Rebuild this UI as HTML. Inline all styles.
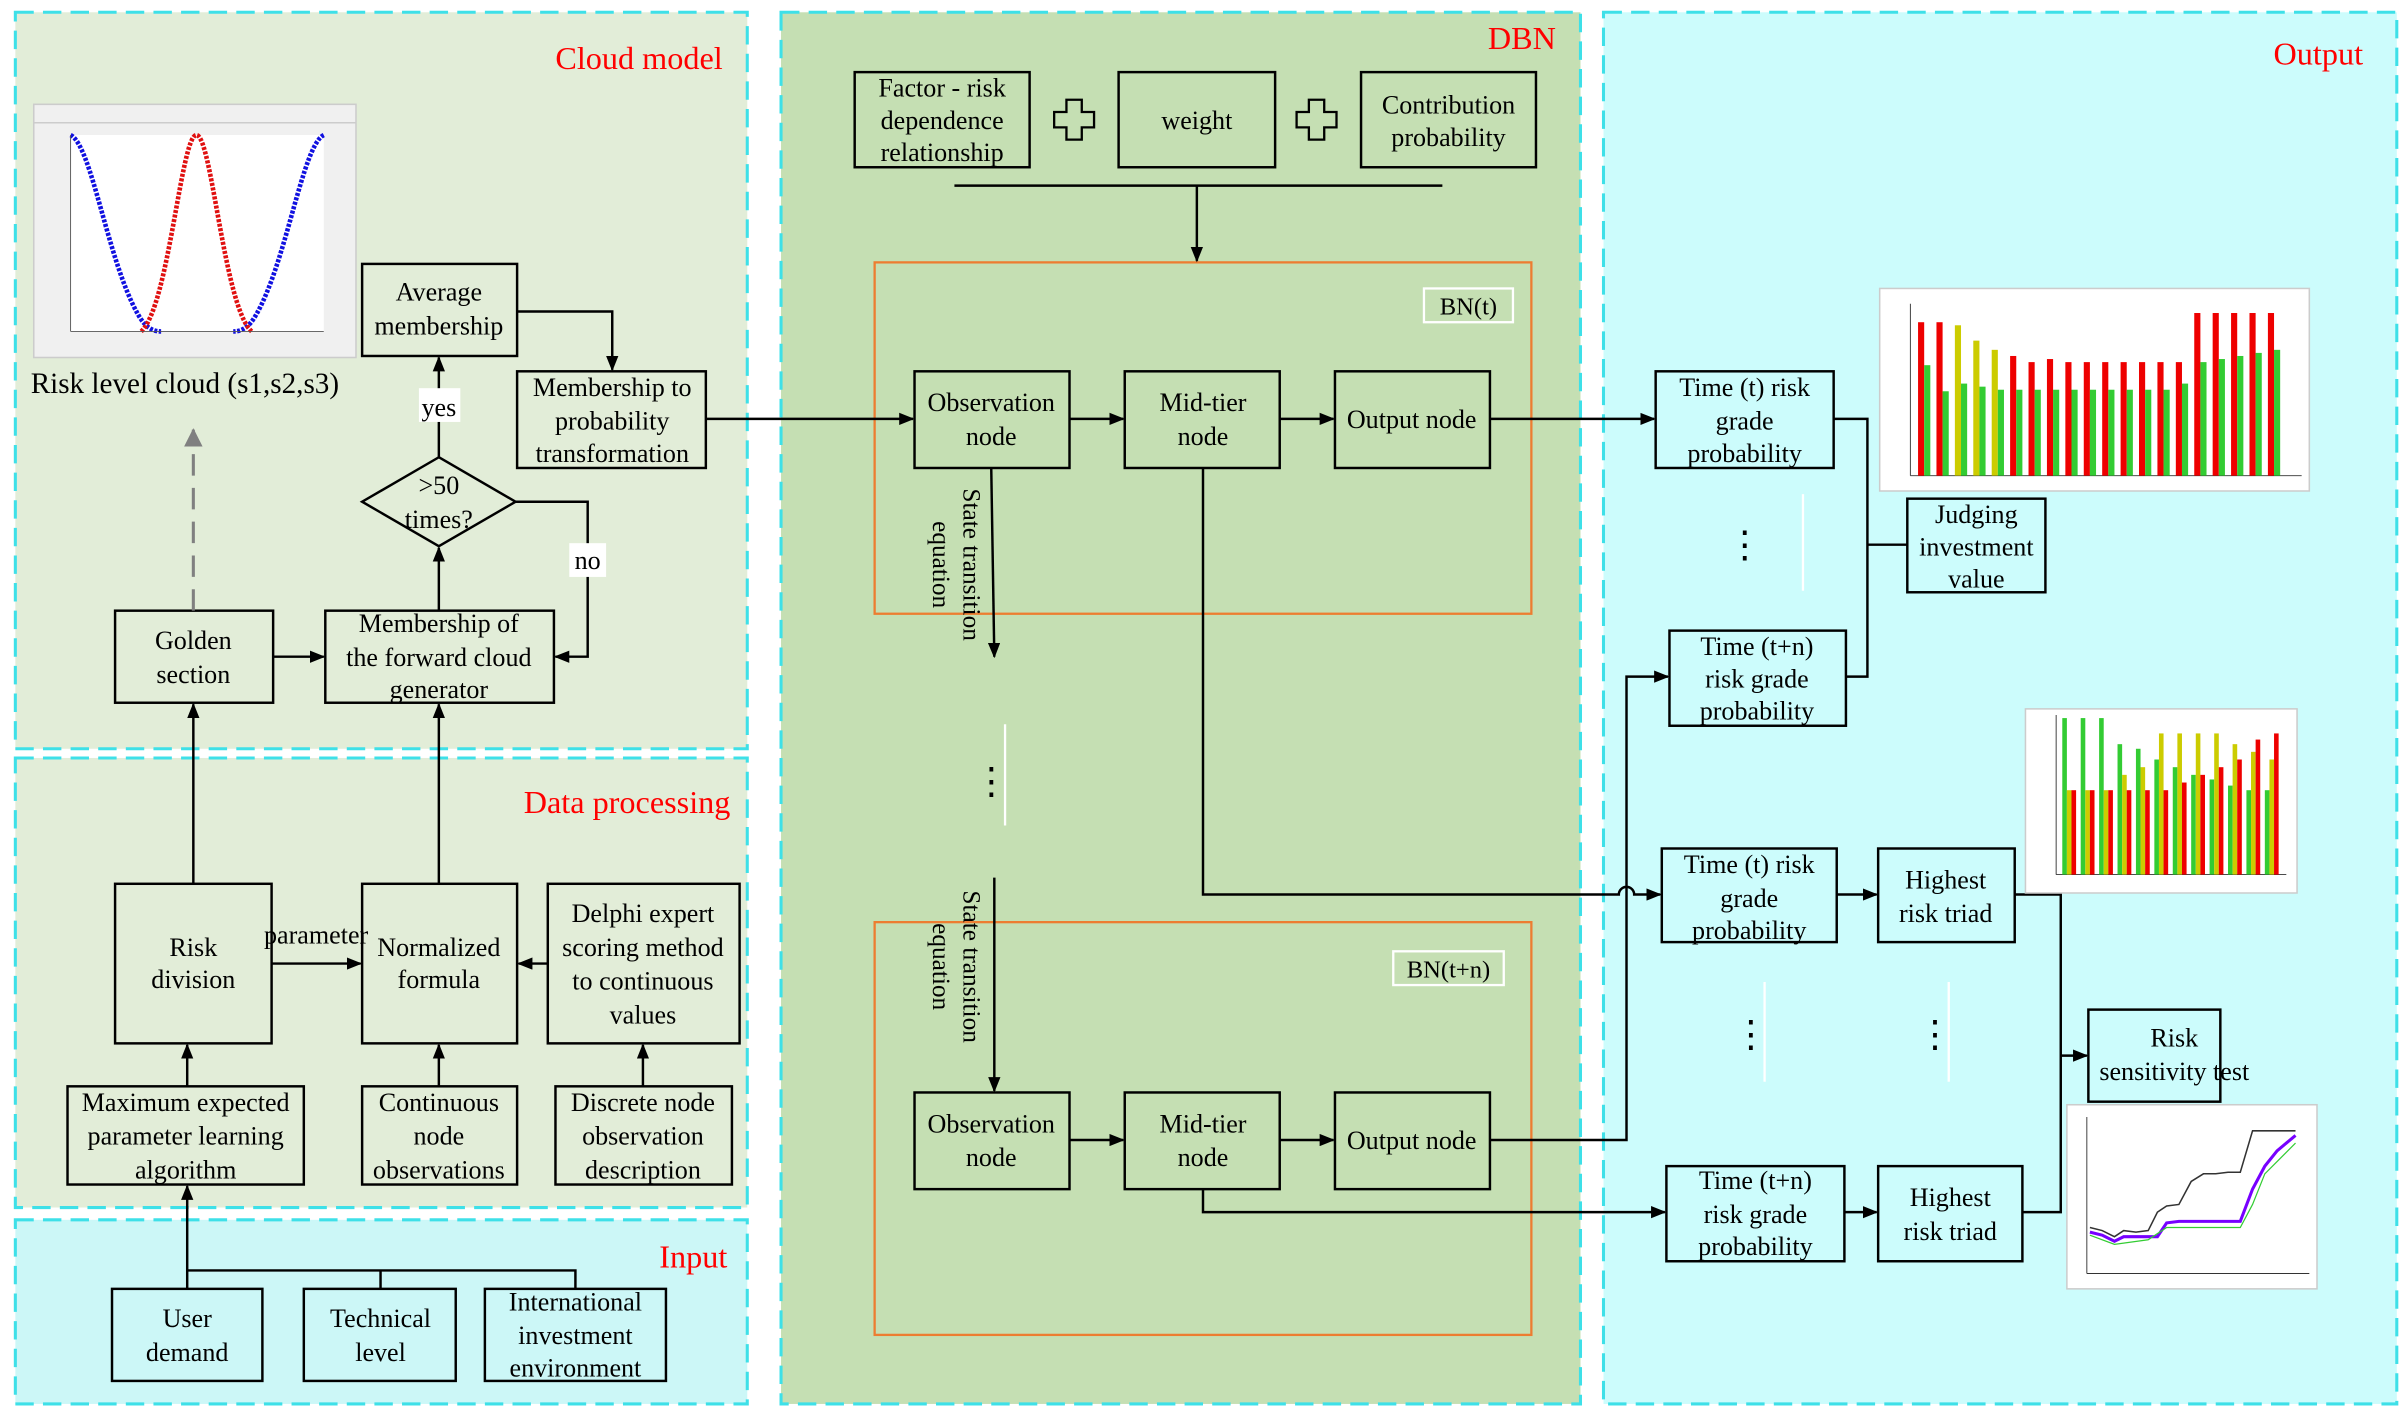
<!DOCTYPE html>
<html><head><meta charset="utf-8"><style>
html,body{margin:0;padding:0;background:#fff}
svg{display:block;font-family:"Liberation Serif","DejaVu Serif",serif}
svg text{font-family:"Liberation Serif","DejaVu Serif",serif}
</style></head><body>
<svg width="2406" height="1411" viewBox="0 0 1568 919.6" preserveAspectRatio="none" xmlns="http://www.w3.org/2000/svg" font-family="'Liberation Serif','DejaVu Serif',serif">
<defs>
<marker id="a" markerWidth="10" markerHeight="8" refX="9" refY="4" orient="auto" markerUnits="userSpaceOnUse"><path d="M0,0 L10,4 L0,8z" fill="#000"/></marker>
<marker id="g" markerWidth="12" markerHeight="12" refX="11" refY="6" orient="auto" markerUnits="userSpaceOnUse"><path d="M0,0 L12,6 L0,12z" fill="#808080"/></marker>
</defs>
<rect width="1568" height="920" fill="#fff"/>
<g stroke="#3ee0e8" stroke-width="2" stroke-dasharray="12,6">
<rect x="10" y="8" width="477" height="480" fill="#e2edd8"/>
<rect x="10" y="494" width="477" height="293" fill="#e2edd8"/>
<rect x="10" y="795" width="477" height="120" fill="#ccf7f7"/>
<rect x="509" y="8" width="521" height="907" fill="#c5dfb3"/>
<rect x="1045" y="8" width="517" height="907" fill="#ccfcfc"/>
</g>
<g font-size="21" text-anchor="end" fill="#f00">
<text x="471" y="45">Cloud model</text>
<text x="1014" y="32">DBN</text>
<text x="1540" y="42">Output</text>
<text x="476" y="530">Data processing</text>
<text x="474" y="826">Input</text>
</g>

<rect x="22" y="68" width="210" height="165" fill="#f0f0f0" stroke="#ccc"/>
<line x1="22" y1="80" x2="232" y2="80" stroke="#ccc"/>
<rect x="46" y="88" width="165" height="128" fill="#fff"/>
<path d="M46,88 C60,95 70,170 90,205 C95,214 100,216 105,216" fill="none" stroke="#1010e0" stroke-width="3" stroke-dasharray="2,1"/>
<path d="M211,88 C197,95 187,170 167,205 C162,214 157,216 152,216" fill="none" stroke="#1010e0" stroke-width="3" stroke-dasharray="2,1"/>
<path d="M92,216 C110,200 118,88 128,88 C138,88 146,200 164,216" fill="none" stroke="#e01010" stroke-width="3" stroke-dasharray="2,1"/>
<line x1="46" y1="216" x2="211" y2="216" stroke="#555" stroke-width="0.6"/>
<line x1="46" y1="88" x2="46" y2="216" stroke="#555" stroke-width="0.6"/>
<text x="20" y="256" font-size="19">Risk level cloud (s1,s2,s3)</text>

<g fill="none" stroke="#000" stroke-width="1.6">
<rect x="236" y="172" width="101" height="60"/>
<rect x="337" y="242" width="123" height="63"/>
<path d="M286,298 L336,327 L286,356 L236,327z"/>
<rect x="75" y="398" width="103" height="60"/>
<rect x="212" y="398" width="149" height="60"/>
<rect x="75" y="576" width="102" height="104"/>
<rect x="236" y="576" width="101" height="104"/>
<rect x="357" y="576" width="125" height="104"/>
<rect x="44" y="708" width="154" height="64"/>
<rect x="236" y="708" width="101" height="64"/>
<rect x="362" y="708" width="115" height="64"/>
<rect x="73" y="840" width="98" height="60"/>
<rect x="198" y="840" width="99" height="60"/>
<rect x="316" y="840" width="118" height="60"/>
<rect x="557" y="47" width="114" height="62"/>
<rect x="729" y="47" width="102" height="62"/>
<rect x="887" y="47" width="114" height="62"/>
<rect x="596" y="242" width="101" height="63"/>
<rect x="733" y="242" width="101" height="63"/>
<rect x="870" y="242" width="101" height="63"/>
<rect x="596" y="712" width="101" height="63"/>
<rect x="733" y="712" width="101" height="63"/>
<rect x="870" y="712" width="101" height="63"/>
<rect x="1079" y="242" width="116" height="63"/>
<rect x="1088" y="411" width="115" height="62"/>
<rect x="1243" y="325" width="90" height="61"/>
<rect x="1083" y="553" width="114" height="61"/>
<rect x="1224" y="553" width="89" height="61"/>
<rect x="1086" y="760" width="116" height="62"/>
<rect x="1224" y="760" width="94" height="62"/>
<rect x="1361" y="658" width="86" height="60"/>
</g>
<rect x="570" y="171" width="428" height="229" fill="none" stroke="#ed7d31" stroke-width="1.5"/>
<rect x="570" y="601" width="428" height="269" fill="none" stroke="#ed7d31" stroke-width="1.5"/>
<rect x="928" y="188" width="58" height="22" fill="none" stroke="#fff" stroke-width="1.5"/>
<rect x="908" y="620" width="72" height="22" fill="none" stroke="#fff" stroke-width="1.5"/>
<text x="957" y="205" font-size="16" text-anchor="middle">BN(t)</text>
<text x="944" y="637" font-size="16" text-anchor="middle">BN(t+n)</text>
<g fill="none" stroke="#000" stroke-width="1.5">
<path d="M695,65 h10 v8 h8 v10 h-8 v8 h-10 v-8 h-8 v-10 h8z"/>
<path d="M853,65 h10 v8 h8 v10 h-8 v8 h-10 v-8 h-8 v-10 h8z"/>
</g>

<g fill="none" stroke="#000" stroke-width="1.6">
<line x1="286" y1="298" x2="286" y2="233" marker-end="url(#a)"/>
<path d="M337,203 H399 V241" marker-end="url(#a)"/>
<line x1="286" y1="398" x2="286" y2="357" marker-end="url(#a)"/>
<path d="M336,327 H383 V428 H362" marker-end="url(#a)"/>
<line x1="178" y1="428" x2="211" y2="428" marker-end="url(#a)"/>
<line x1="126" y1="576" x2="126" y2="459" marker-end="url(#a)"/>
<line x1="286" y1="576" x2="286" y2="459" marker-end="url(#a)"/>
<line x1="177" y1="628" x2="235" y2="628" marker-end="url(#a)"/>
<line x1="357" y1="628" x2="338" y2="628" marker-end="url(#a)"/>
<line x1="122" y1="708" x2="122" y2="681" marker-end="url(#a)"/>
<line x1="286" y1="708" x2="286" y2="681" marker-end="url(#a)"/>
<line x1="419" y1="708" x2="419" y2="681" marker-end="url(#a)"/>
<line x1="122" y1="840" x2="122" y2="773" marker-end="url(#a)"/>
<path d="M122,828 H375 V840 M248,828 V840"/>
<line x1="622" y1="121" x2="940" y2="121"/>
<line x1="780" y1="121" x2="780" y2="170" marker-end="url(#a)"/>
<line x1="460" y1="273" x2="595" y2="273" marker-end="url(#a)"/>
<line x1="697" y1="273" x2="732" y2="273" marker-end="url(#a)"/>
<line x1="834" y1="273" x2="869" y2="273" marker-end="url(#a)"/>
<line x1="697" y1="743" x2="732" y2="743" marker-end="url(#a)"/>
<line x1="834" y1="743" x2="869" y2="743" marker-end="url(#a)"/>
<line x1="646" y1="305" x2="648" y2="428" marker-end="url(#a)"/>
<line x1="648" y1="572" x2="648" y2="711" marker-end="url(#a)"/>
<line x1="971" y1="273" x2="1078" y2="273" marker-end="url(#a)"/>
<path d="M784,305 V583 H1055 A5,5 0 0 1 1065,583 H1082" marker-end="url(#a)"/>
<path d="M971,743 H1060 V441 H1087" marker-end="url(#a)"/>
<path d="M784,775 V790 H1085" marker-end="url(#a)"/>
<path d="M1195,273 H1217 V441 H1203 M1217,355 H1243"/>
<line x1="1197" y1="583" x2="1223" y2="583" marker-end="url(#a)"/>
<line x1="1202" y1="790" x2="1223" y2="790" marker-end="url(#a)"/>
<path d="M1313,583 H1343 V790 H1318"/>
<line x1="1343" y1="688" x2="1360" y2="688" marker-end="url(#a)"/>
</g>
<line x1="126" y1="398" x2="126" y2="280" stroke="#808080" stroke-width="2" stroke-dasharray="14,8" marker-end="url(#g)"/>
<g stroke="#fff" stroke-width="1.5">
<line x1="655" y1="472" x2="655" y2="538"/>
<line x1="1175" y1="322" x2="1175" y2="385"/>
<line x1="1150" y1="640" x2="1150" y2="705"/>
<line x1="1270" y1="640" x2="1270" y2="705"/>
</g>
<g font-size="24" text-anchor="middle">
<text x="646" y="517">⋮</text><text x="1137" y="363">⋮</text>
<text x="1141" y="682">⋮</text><text x="1261" y="682">⋮</text>
</g>
<rect x="273" y="253" width="27" height="22" fill="#fff"/>
<rect x="371" y="354" width="24" height="22" fill="#fff"/>

<g font-size="17" text-anchor="middle">
<text x="286" y="271">yes</text>
<text x="383" y="371">no</text>
<text x="286" y="196">Average</text><text x="286" y="218">membership</text>
<text x="399" y="258">Membership to</text><text x="399" y="280">probability</text><text x="399" y="301">transformation</text>
<text x="286" y="322">&gt;50</text><text x="286" y="344">times?</text>
<text x="126" y="423">Golden</text><text x="126" y="445">section</text>
<text x="286" y="412">Membership of</text><text x="286" y="434">the forward cloud</text><text x="286" y="455">generator</text>
<text x="126" y="623">Risk</text><text x="126" y="644">division</text>
<text x="206" y="615">parameter</text>
<text x="419" y="601">Delphi expert</text><text x="419" y="623">scoring method</text><text x="419" y="645">to continuous</text><text x="419" y="667">values</text>
<text x="286" y="623">Normalized</text><text x="286" y="644">formula</text>
<text x="121" y="724">Maximum expected</text><text x="121" y="746">parameter learning</text><text x="121" y="768">algorithm</text>
<text x="286" y="724">Continuous</text><text x="286" y="746">node</text><text x="286" y="768">observations</text>
<text x="419" y="724">Discrete node</text><text x="419" y="746">observation</text><text x="419" y="768">description</text>
<text x="122" y="865">User</text><text x="122" y="887">demand</text>
<text x="248" y="865">Technical</text><text x="248" y="887">level</text>
<text x="375" y="854">International</text><text x="375" y="876">investment</text><text x="375" y="897">environment</text>
<text x="614" y="63">Factor - risk</text><text x="614" y="84">dependence</text><text x="614" y="105">relationship</text>
<text x="780" y="84">weight</text>
<text x="944" y="74">Contribution</text><text x="944" y="95">probability</text>
<text x="646" y="268">Observation</text><text x="646" y="290">node</text>
<text x="784" y="268">Mid-tier</text><text x="784" y="290">node</text>
<text x="920" y="279">Output node</text>
<text x="646" y="738">Observation</text><text x="646" y="760">node</text>
<text x="784" y="738">Mid-tier</text><text x="784" y="760">node</text>
<text x="920" y="749">Output node</text>
<text x="1137" y="258">Time (t) risk</text><text x="1137" y="280">grade</text><text x="1137" y="301">probability</text>
<text x="1145" y="427">Time (t+n)</text><text x="1145" y="448">risk grade</text><text x="1145" y="469">probability</text>
<text x="1288" y="341">Judging</text><text x="1288" y="362">investment</text><text x="1288" y="383">value</text>
<text x="1140" y="569">Time (t) risk</text><text x="1140" y="591">grade</text><text x="1140" y="612">probability</text>
<text x="1268" y="579">Highest</text><text x="1268" y="601">risk triad</text>
<text x="1144" y="775">Time (t+n)</text><text x="1144" y="797">risk grade</text><text x="1144" y="818">probability</text>
<text x="1271" y="786">Highest</text><text x="1271" y="808">risk triad</text>
<text x="1417" y="682">Risk</text><text x="1417" y="704">sensitivity test</text>
</g>
<g font-size="16.5" text-anchor="middle">
<text transform="translate(628,368) rotate(90)">State transition</text>
<text transform="translate(608,368) rotate(90)">equation</text>
<text transform="translate(628,630) rotate(90)">State transition</text>
<text transform="translate(608,630) rotate(90)">equation</text>
</g>

<rect x="1225" y="188" width="280" height="132" fill="#fff" stroke="#ccc"/>
<line x1="1245" y1="198" x2="1245" y2="310" stroke="#333" stroke-width="0.6"/>
<line x1="1245" y1="310" x2="1500" y2="310" stroke="#333" stroke-width="0.6"/>
<g>
<rect x="1250" y="210" width="4" height="100" fill="#e00"/><rect x="1254" y="238" width="4" height="72" fill="#3c3"/>
<rect x="1262" y="210" width="4" height="100" fill="#e00"/><rect x="1266" y="255" width="4" height="55" fill="#3c3"/>
<rect x="1274" y="212" width="4" height="98" fill="#cc0"/><rect x="1278" y="250" width="4" height="60" fill="#3c3"/>
<rect x="1286" y="222" width="4" height="88" fill="#cc0"/><rect x="1290" y="252" width="4" height="58" fill="#3c3"/>
<rect x="1298" y="228" width="4" height="82" fill="#cc0"/><rect x="1302" y="254" width="4" height="56" fill="#3c3"/>
<rect x="1310" y="232" width="4" height="78" fill="#e00"/><rect x="1314" y="254" width="4" height="56" fill="#3c3"/>
<rect x="1322" y="236" width="4" height="74" fill="#e00"/><rect x="1326" y="254" width="4" height="56" fill="#3c3"/>
<rect x="1334" y="234" width="4" height="76" fill="#e00"/><rect x="1338" y="254" width="4" height="56" fill="#3c3"/>
<rect x="1346" y="236" width="4" height="74" fill="#e00"/><rect x="1350" y="254" width="4" height="56" fill="#3c3"/>
<rect x="1358" y="236" width="4" height="74" fill="#e00"/><rect x="1362" y="254" width="4" height="56" fill="#3c3"/>
<rect x="1370" y="236" width="4" height="74" fill="#e00"/><rect x="1374" y="254" width="4" height="56" fill="#3c3"/>
<rect x="1382" y="236" width="4" height="74" fill="#e00"/><rect x="1386" y="254" width="4" height="56" fill="#3c3"/>
<rect x="1394" y="236" width="4" height="74" fill="#e00"/><rect x="1398" y="254" width="4" height="56" fill="#3c3"/>
<rect x="1406" y="236" width="4" height="74" fill="#e00"/><rect x="1410" y="254" width="4" height="56" fill="#3c3"/>
<rect x="1418" y="236" width="4" height="74" fill="#e00"/><rect x="1422" y="250" width="4" height="60" fill="#3c3"/>
<rect x="1430" y="204" width="4" height="106" fill="#e00"/><rect x="1434" y="236" width="4" height="74" fill="#3c3"/>
<rect x="1442" y="204" width="4" height="106" fill="#e00"/><rect x="1446" y="234" width="4" height="76" fill="#3c3"/>
<rect x="1454" y="204" width="4" height="106" fill="#e00"/><rect x="1458" y="232" width="4" height="78" fill="#3c3"/>
<rect x="1466" y="204" width="4" height="106" fill="#e00"/><rect x="1470" y="230" width="4" height="80" fill="#3c3"/>
<rect x="1478" y="204" width="4" height="106" fill="#e00"/><rect x="1482" y="228" width="4" height="82" fill="#3c3"/>
</g>
<rect x="1320" y="462" width="177" height="120" fill="#fff" stroke="#ccc"/>
<line x1="1340" y1="466" x2="1340" y2="570" stroke="#333" stroke-width="0.6"/>
<line x1="1340" y1="570" x2="1490" y2="570" stroke="#333" stroke-width="0.6"/>
<g>
<rect x="1344" y="468" width="3" height="102" fill="#3c3"/><rect x="1347" y="515" width="3" height="55" fill="#cc0"/><rect x="1350" y="515" width="3" height="55" fill="#e00"/>
<rect x="1356" y="468" width="3" height="102" fill="#3c3"/><rect x="1359" y="515" width="3" height="55" fill="#cc0"/><rect x="1362" y="515" width="3" height="55" fill="#e00"/>
<rect x="1368" y="468" width="3" height="102" fill="#3c3"/><rect x="1371" y="515" width="3" height="55" fill="#cc0"/><rect x="1374" y="515" width="3" height="55" fill="#e00"/>
<rect x="1380" y="485" width="3" height="85" fill="#3c3"/><rect x="1383" y="505" width="3" height="65" fill="#cc0"/><rect x="1386" y="515" width="3" height="55" fill="#e00"/>
<rect x="1392" y="488" width="3" height="82" fill="#3c3"/><rect x="1395" y="500" width="3" height="70" fill="#cc0"/><rect x="1398" y="515" width="3" height="55" fill="#e00"/>
<rect x="1404" y="495" width="3" height="75" fill="#3c3"/><rect x="1407" y="478" width="3" height="92" fill="#cc0"/><rect x="1410" y="515" width="3" height="55" fill="#e00"/>
<rect x="1416" y="500" width="3" height="70" fill="#3c3"/><rect x="1419" y="478" width="3" height="92" fill="#cc0"/><rect x="1422" y="510" width="3" height="60" fill="#e00"/>
<rect x="1428" y="505" width="3" height="65" fill="#3c3"/><rect x="1431" y="478" width="3" height="92" fill="#cc0"/><rect x="1434" y="505" width="3" height="65" fill="#e00"/>
<rect x="1440" y="508" width="3" height="62" fill="#3c3"/><rect x="1443" y="478" width="3" height="92" fill="#cc0"/><rect x="1446" y="500" width="3" height="70" fill="#e00"/>
<rect x="1452" y="512" width="3" height="58" fill="#3c3"/><rect x="1455" y="485" width="3" height="85" fill="#cc0"/><rect x="1458" y="495" width="3" height="75" fill="#e00"/>
<rect x="1464" y="515" width="3" height="55" fill="#3c3"/><rect x="1467" y="490" width="3" height="80" fill="#cc0"/><rect x="1470" y="482" width="3" height="88" fill="#e00"/>
<rect x="1476" y="515" width="3" height="55" fill="#3c3"/><rect x="1479" y="495" width="3" height="75" fill="#cc0"/><rect x="1482" y="478" width="3" height="92" fill="#e00"/>
</g>
<rect x="1347" y="720" width="163" height="120" fill="#fff" stroke="#ccc"/>
<line x1="1360" y1="728" x2="1360" y2="830" stroke="#333" stroke-width="0.6"/>
<line x1="1360" y1="830" x2="1505" y2="830" stroke="#333" stroke-width="0.6"/>
<polyline points="1362,800 1370,802 1378,806 1384,802 1392,803 1400,802 1406,790 1412,786 1420,785 1428,770 1436,765 1444,765 1452,764 1460,764 1468,737 1476,737 1484,737 1496,737" fill="none" stroke="#333" stroke-width="1"/>
<polyline points="1362,803 1370,805 1378,809 1384,806 1392,806 1400,806 1406,806 1412,797 1420,796 1428,796 1436,796 1444,796 1452,796 1460,796 1468,775 1476,760 1484,750 1496,740" fill="none" stroke="#70f" stroke-width="2"/>
<polyline points="1362,805 1378,811 1400,808 1412,800 1460,800 1468,785 1476,765 1496,745" fill="none" stroke="#3c3" stroke-width="0.8"/>
</svg>
</body></html>
